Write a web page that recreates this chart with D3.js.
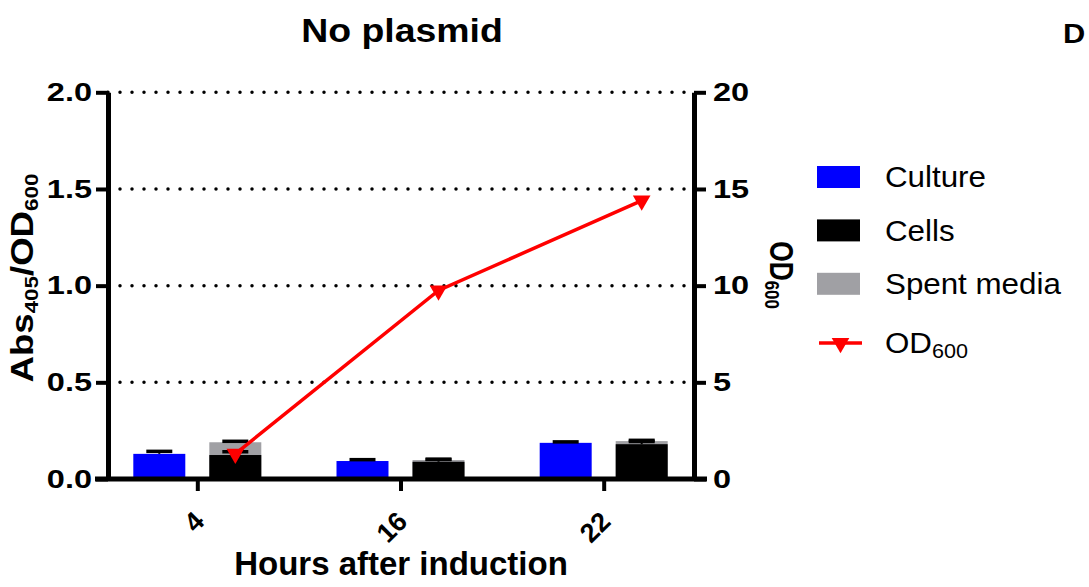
<!DOCTYPE html>
<html>
<head>
<meta charset="utf-8">
<style>
body { margin: 0; background: #fff; }
svg { display: block; font-family: "Liberation Sans", Arial, sans-serif; }
</style>
</head>
<body>
<svg width="1089" height="587"></svg>
<script src="https://d3js.org/d3.v7.min.js"></script>
<script>
// values
var hours = ["4", "16", "22"]
var culture = [0.13, 0.093, 0.187]
var cultureSd = [0.013, 0.007, 0.005]
var cells = [0.124, 0.089, 0.18]
var cellsSd = [0.017, 0.012, 0.014]
var spent = [0.19, 0.098, 0.196]
var spentSd = [0.005, 0.004, 0.004]
var od600 = [1.3, 9.75, 14.4]
var leftTicks = [0, 0.5, 1.0, 1.5, 2.0]
var rightTicks = [0, 5, 10, 15, 20]
var gridTicks = [0.5, 1.0, 1.5, 2.0]
var legendNames = ["Culture", "Cells", "Spent media"]
var legendColors = ["#0000ff", "#000000", "#a0a0a4"]

var svg = d3.select("svg")
var plotBottom = 479, plotTop = 92.3, plotLeft = 108, plotRight = 694

var x = d3.scalePoint().domain(hours).range([107.5, 693.5]).padding(0.442),
    x1 = d3.scaleBand().domain(["Culture", "Cells"]).range([-64, 64]).paddingInner(0.316),
    y = d3.scaleLinear().domain([0, 2]).range([plotBottom, plotTop]),
    y2 = d3.scaleLinear().domain([0, 20]).range([plotBottom, plotTop])

// dotted grid
svg.append("g").selectAll("line")
  .data(gridTicks)
  .enter().append("line")
    .attr("x1", plotLeft).attr("x2", plotRight)
    .attr("y1", d => y(d)).attr("y2", d => y(d))
    .attr("stroke", "#000")
    .attr("stroke-width", 3.5)
    .attr("stroke-linecap", "round")
    .attr("stroke-dasharray", "0,12")

var bars = svg.append("g")

function bar(key, vals, sds, color) {
  hours.forEach(function(h, i) {
    var bx = x(h) + x1(key)
    bars.append("rect")
      .attr("x", bx).attr("width", x1.bandwidth())
      .attr("y", y(vals[i])).attr("height", plotBottom - y(vals[i]))
      .attr("fill", color)
    var cx = bx + x1.bandwidth() / 2
    bars.append("line")
      .attr("x1", cx).attr("x2", cx)
      .attr("y1", y(vals[i])).attr("y2", y(vals[i] + sds[i]))
      .attr("stroke", "#000").attr("stroke-width", 2)
    bars.append("line")
      .attr("x1", cx - 13).attr("x2", cx + 13)
      .attr("y1", y(vals[i] + sds[i])).attr("y2", y(vals[i] + sds[i]))
      .attr("stroke", "#000").attr("stroke-width", 3.5)
  })
}
bar("Culture", culture, cultureSd, legendColors[0])
bar("Cells", spent, spentSd, legendColors[2])
bar("Cells", cells, cellsSd, legendColors[1])

// axes
var tickFont = 26, tickSx = 1.25

var gl = svg.append("g")
    .attr("transform", "translate(" + plotLeft + ",0)")
    .call(d3.axisLeft(y).tickValues(leftTicks).tickFormat(d3.format(".1f"))
      .tickSize(12).tickSizeOuter(0).tickPadding(4))
gl.select(".domain").attr("stroke-width", 5)
gl.selectAll(".tick line").attr("stroke-width", 4)
gl.selectAll(".tick text")
    .attr("x", -16 / tickSx)
    .attr("transform", "scale(" + tickSx + ",1)")
    .attr("font-size", tickFont).attr("font-weight", "bold")
    .attr("font-family", "Liberation Sans, Arial, sans-serif")

var gr = svg.append("g")
    .attr("transform", "translate(" + plotRight + ",0)")
    .call(d3.axisRight(y2).tickValues(rightTicks)
      .tickSize(12).tickSizeOuter(0).tickPadding(7))
gr.select(".domain").attr("stroke-width", 5)
gr.selectAll(".tick line").attr("stroke-width", 4)
gr.selectAll(".tick text")
    .attr("x", 19 / tickSx)
    .attr("transform", "scale(" + tickSx + ",1)")
    .attr("font-size", tickFont).attr("font-weight", "bold")
    .attr("font-family", "Liberation Sans, Arial, sans-serif")

var gx = svg.append("g")
    .attr("transform", "translate(0," + plotBottom + ")")
    .call(d3.axisBottom(x).tickSize(12).tickSizeOuter(0))
gx.select(".domain").remove()
gx.append("line")
    .attr("x1", 95).attr("x2", 707)
    .attr("stroke", "#000").attr("stroke-width", 5)
gx.selectAll(".tick line").attr("stroke-width", 4)
gx.selectAll(".tick text")
    .attr("x", null).attr("y", null).attr("dy", null)
    .attr("text-anchor", "end")
    .attr("transform", "translate(8,44) rotate(-45)")
    .attr("font-size", 27).attr("font-weight", "bold")
    .attr("font-family", "Liberation Sans, Arial, sans-serif")

// OD600 line
var line = d3.line()
    .x((d, i) => x(hours[i]) + x1("Cells") + x1.bandwidth() / 2)
    .y(d => y2(d))
svg.append("path")
    .datum(od600)
    .attr("d", line)
    .attr("fill", "none")
    .attr("stroke", "#ff0000")
    .attr("stroke-width", 3.5)
var tri = d3.symbol(d3.symbolTriangle, 135)
svg.append("g").selectAll("path")
  .data(od600)
  .enter().append("path")
    .attr("d", tri)
    .attr("fill", "#ff0000")
    .attr("transform", (d, i) => "translate(" + (x(hours[i]) + x1("Cells") + x1.bandwidth() / 2) + "," + y2(d) + ") rotate(180)")

// titles
svg.append("text")
    .attr("transform", "translate(402,42) scale(1.1,1)")
    .attr("text-anchor", "middle")
    .attr("font-size", 34).attr("font-weight", "bold")
    .text("No plasmid")
svg.append("text")
    .attr("transform", "translate(1063,43) scale(1.1,1)")
    .attr("font-size", 28).attr("font-weight", "bold")
    .text("D")
svg.append("text")
    .attr("transform", "translate(401,575)")
    .attr("text-anchor", "middle")
    .attr("font-size", 33).attr("font-weight", "bold")
    .text("Hours after induction")

var yl = svg.append("text")
    .attr("transform", "translate(33,278) rotate(-90) scale(1.18,1)")
    .attr("text-anchor", "middle")
    .attr("font-size", 31).attr("font-weight", "bold")
yl.append("tspan").text("Abs")
yl.append("tspan").attr("font-size", 19).attr("dy", 5).text("405")
yl.append("tspan").attr("dy", -5).text("/OD")
yl.append("tspan").attr("font-size", 19).attr("dy", 5).text("600")

var yr = svg.append("text")
    .attr("transform", "translate(770,275) rotate(90) scale(0.8,1)")
    .attr("text-anchor", "middle")
    .attr("font-size", 33).attr("font-weight", "bold")
yr.append("tspan").text("OD")
yr.append("tspan").attr("font-size", 21).attr("dy", 5).text("600")

// legend
var lg = svg.append("g")
legendNames.forEach(function(name, i) {
  lg.append("rect")
      .attr("x", 817).attr("y", 166 + i * 53.4)
      .attr("width", 43).attr("height", 22)
      .attr("fill", legendColors[i])
  lg.append("text")
      .attr("transform", "translate(885," + (187.3 + i * 53.4) + ") scale(1.08,1)")
      .attr("font-size", 29)
      .text(name)
})
lg.append("line")
    .attr("x1", 819).attr("x2", 862)
    .attr("y1", 343).attr("y2", 343)
    .attr("stroke", "#ff0000").attr("stroke-width", 3.5)
lg.append("path")
    .attr("d", tri)
    .attr("fill", "#ff0000")
    .attr("transform", "translate(840.5,343) rotate(180)")
var lt = lg.append("text")
    .attr("transform", "translate(885,353) scale(1.08,1)")
    .attr("font-size", 29)
lt.append("tspan").text("OD")
lt.append("tspan").attr("font-size", 20).attr("dy", 5).text("600")
</script>
</body>
</html>
